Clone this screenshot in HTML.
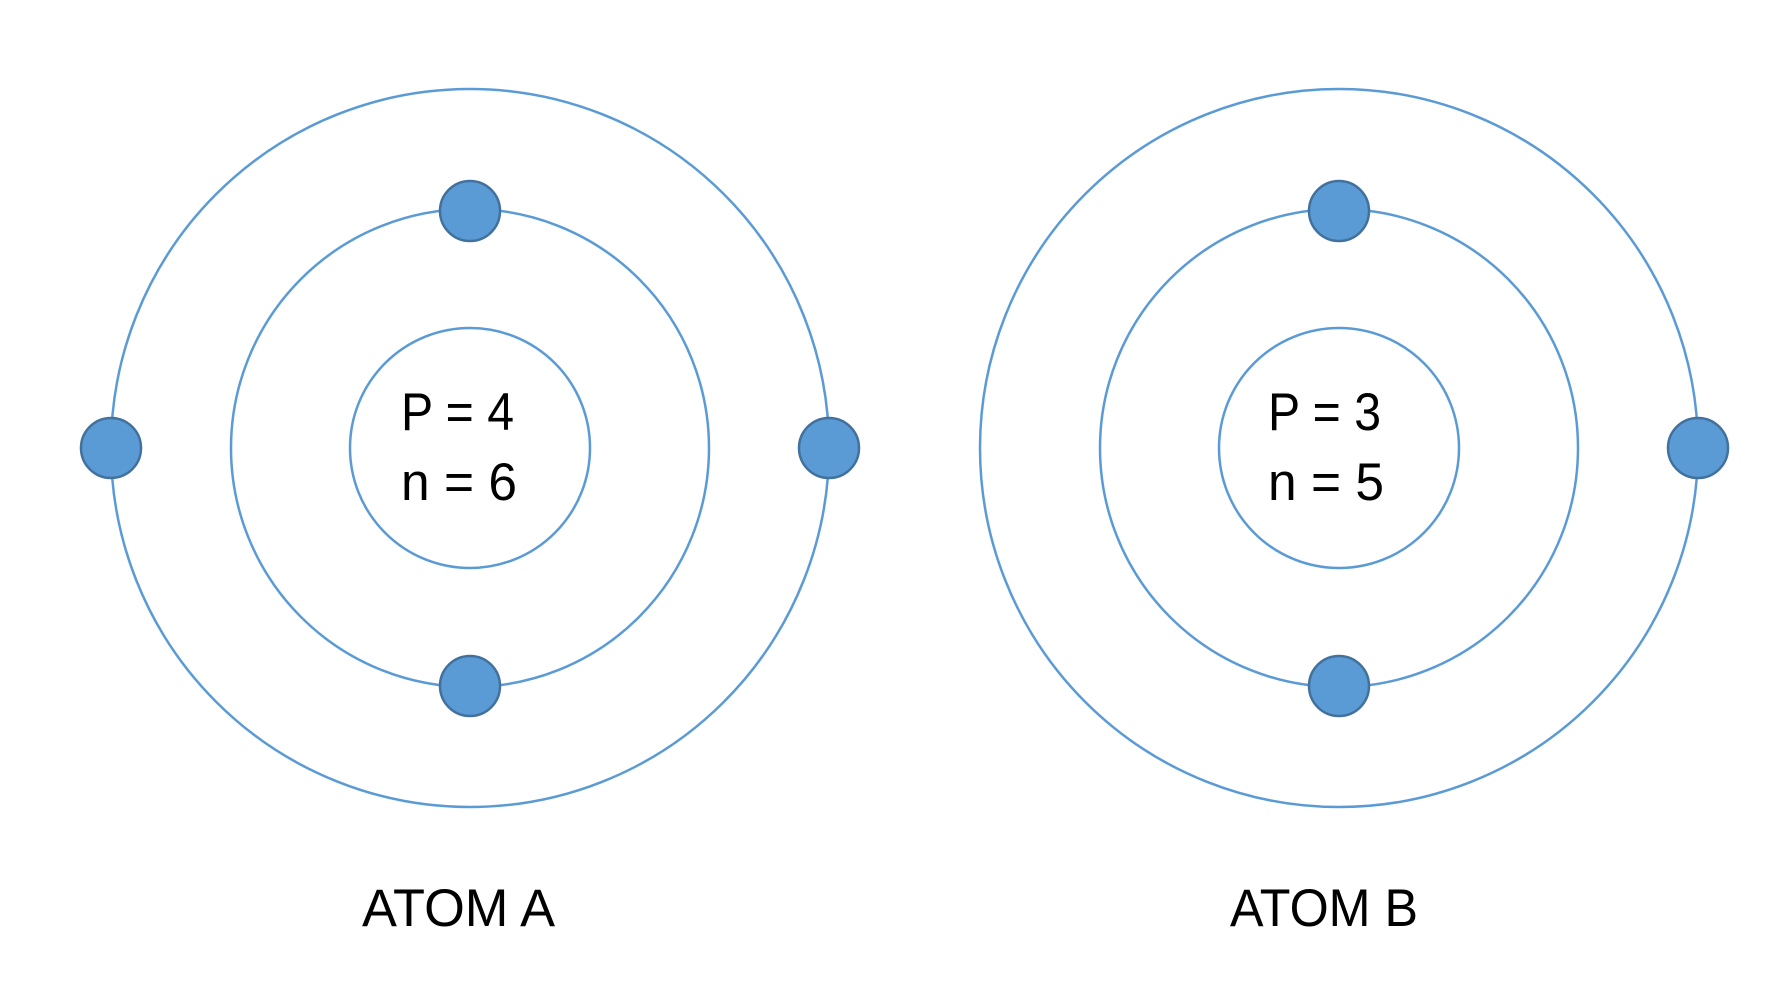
<!DOCTYPE html>
<html><head><meta charset="utf-8"><style>html,body{margin:0;padding:0;background:#fff}svg{display:block}</style></head>
<body>
<svg width="1776" height="993" viewBox="0 0 1776 993" xmlns="http://www.w3.org/2000/svg">
<g fill="none" stroke="#5b9bd5" stroke-width="2.5">
<circle cx="470" cy="448" r="359"/><circle cx="470" cy="448" r="239"/><circle cx="470" cy="448" r="120"/>
<circle cx="1339" cy="448" r="359"/><circle cx="1339" cy="448" r="239"/><circle cx="1339" cy="448" r="120"/>
</g>
<g fill="#5b9bd5" stroke="#41719c" stroke-width="2.5">
<circle cx="470" cy="211" r="30"/><circle cx="470" cy="686" r="30"/><circle cx="111" cy="448" r="30"/><circle cx="829" cy="448" r="30"/>
<circle cx="1339" cy="211" r="30"/><circle cx="1339" cy="686" r="30"/><circle cx="1698" cy="448" r="30"/>
</g>
<g font-family="Liberation Sans, sans-serif" font-size="53" fill="#000">
<text x="401" y="430" textLength="113" lengthAdjust="spacingAndGlyphs">P = 4</text>
<text x="401" y="500" textLength="116" lengthAdjust="spacingAndGlyphs">n = 6</text>
<text x="1268" y="430" textLength="113" lengthAdjust="spacingAndGlyphs">P = 3</text>
<text x="1268" y="500" textLength="116" lengthAdjust="spacingAndGlyphs">n = 5</text>
<text x="362" y="926" textLength="193" lengthAdjust="spacingAndGlyphs">ATOM A</text>
<text x="1230" y="926" textLength="188" lengthAdjust="spacingAndGlyphs">ATOM B</text>
</g>
</svg>
</body></html>
